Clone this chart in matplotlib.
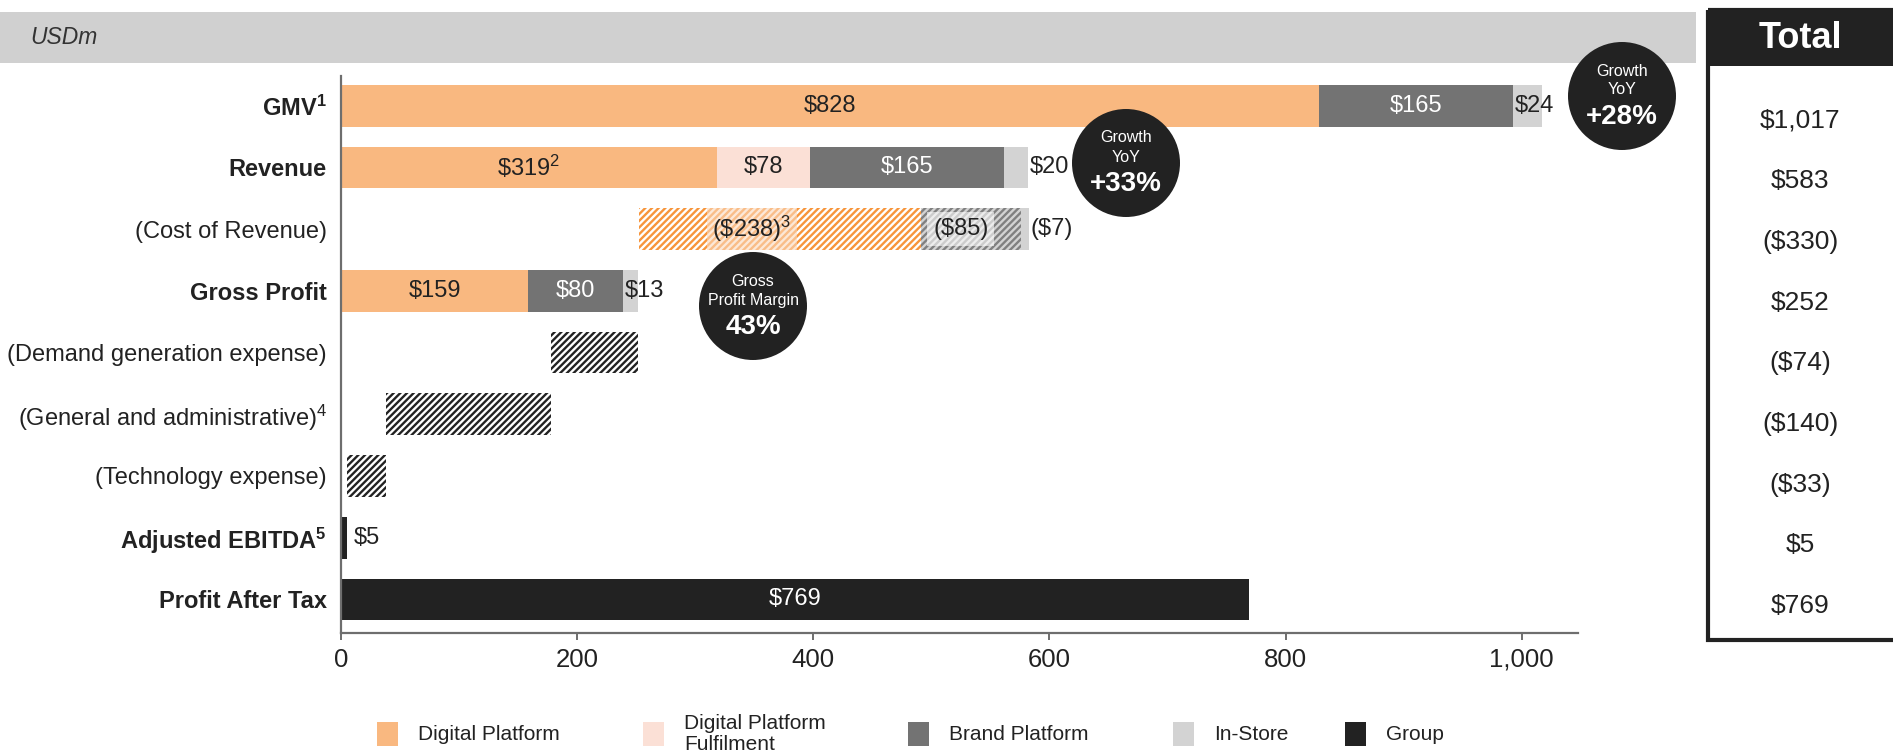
import matplotlib
matplotlib.use("Agg")
import matplotlib.pyplot as plt
from matplotlib.patches import Rectangle, Circle
from matplotlib.ticker import FuncFormatter

plt.rcParams['font.family'] = ['Liberation Sans', 'DejaVu Sans']
plt.rcParams['mathtext.fontset'] = 'custom'
plt.rcParams['mathtext.rm'] = 'Liberation Sans'
plt.rcParams['mathtext.it'] = 'Liberation Sans:italic'
plt.rcParams['mathtext.bf'] = 'Liberation Sans:bold'
plt.rcParams['mathtext.default'] = 'regular'
plt.rcParams['hatch.linewidth'] = 1.7

# ---------------- data ----------------
categories = ["GMV", "Revenue", "(Cost of Revenue)", "Gross Profit",
              "(Demand generation expense)", "(General and administrative)",
              "(Technology expense)", "Adjusted EBITDA", "Profit After Tax"]
cat_notes = ["1", "", "", "", "", "4", "", "5", ""]
cat_bold = [True, True, False, True, False, False, False, True, True]

digital_platform = [828, 319, 238, 159, 0, 0, 0, 0, 0]
dp_notes = ["", "2", "3", "", "", "", "", "", ""]
dp_fulfilment = [0, 78, 0, 0, 0, 0, 0, 0, 0]
brand_platform = [165, 165, 85, 80, 0, 0, 0, 0, 0]
in_store = [24, 20, 7, 13, 0, 0, 0, 0, 0]
group = [0, 0, 0, 0, 74, 140, 33, 5, 769]
totals = [1017, 583, -330, 252, -74, -140, -33, 5, 769]

series_names = ["Digital Platform", "Digital Platform\nFulfilment",
                "Brand Platform", "In-Store", "Group"]
series_colors = ["#F9B880", "#FBE0D6", "#737373", "#D3D3D3", "#222222"]
hatch_colors = ["#F7953B", "#F2B9A4", "#808080", "#D3D3D3", "#222222"]
hatch_faces = ["#FFFFFF", "#FFFFFF", "#D3D3D3", "#D3D3D3", "#FFFFFF"]
hatch_style = "/////"

xticks = [0, 200, 400, 600, 800, 1000]

bubble_lines = [("Growth", "YoY", "+28%"),
                ("Growth", "YoY", "+33%"),
                ("Gross", "Profit Margin", "43%")]

# ---------------- layout ----------------
W, H = 1893, 755
fig = plt.figure(figsize=(W / 100, H / 100), dpi=100)
fig.patch.set_facecolor("white")

px_per_unit = 1.181
x_max = 1048
ax_left, ax_top, ax_bottom = 340.7, 76.0, 632.7
ax = fig.add_axes([ax_left / W, 1 - ax_bottom / H,
                   x_max * px_per_unit / W, (ax_bottom - ax_top) / H])
ax.set_xlim(0, x_max)
ax.set_ylim(8.54, -0.483)

series = [digital_platform, dp_fulfilment, brand_platform, in_store, group]

# waterfall starting points
starts = []
prev = 0
for t in totals:
    if t < 0:
        s = prev + t
        starts.append(s)
        prev = s
    else:
        starts.append(0)
        prev = t

instore_anchor = ["start", "end", "end", "start", "", "", "", "", ""]
bar_h = 0.675
txt = "#222222"
lab_fs = 17

for i in range(len(categories)):
    neg = totals[i] < 0
    left = starts[i]
    for k, vals in enumerate(series):
        v = vals[i]
        if v == 0:
            continue
        if neg:
            ax.barh(i, v, left=left, height=bar_h, color=hatch_faces[k],
                    edgecolor=hatch_colors[k], linewidth=0, hatch=hatch_style)
        else:
            ax.barh(i, v, left=left, height=bar_h, color=series_colors[k],
                    linewidth=0)
        money = f"(${v})" if neg else f"${v}"
        if k == 3:
            xpos = left + 1.5 if instore_anchor[i] == "start" else left + v + 1.5
            ax.text(xpos, i, money, ha="left", va="center", fontsize=lab_fs, color=txt)
        elif k == 4:
            if neg:
                pass
            elif v < 50:
                ax.text(left + v + 6, i, money, ha="left", va="center",
                        fontsize=lab_fs, color=txt)
            else:
                ax.text(left + v / 2, i, money, ha="center", va="center",
                        fontsize=lab_fs, color="white")
        else:
            note = dp_notes[i] if k == 0 else ""
            s = money.replace("$", r"\$") + f"$^{{{note}}}$" if note else money
            col = "white" if k == 2 else txt
            if neg:
                bfc = "#FBD9BD" if k == 0 else "white"
                ax.text(left + 0.4 * v, i, s, ha="center", va="center",
                        fontsize=lab_fs, color=txt,
                        bbox=dict(boxstyle="square,pad=0.25", fc=bfc,
                                  ec="none", alpha=0.6))
            else:
                ax.text(left + v / 2, i, s, ha="center", va="center",
                        fontsize=lab_fs, color=col)
        left += v

# axes styling
for sp in ["top", "right"]:
    ax.spines[sp].set_visible(False)
for sp in ["left", "bottom"]:
    ax.spines[sp].set_color("#6E6E6E")
    ax.spines[sp].set_linewidth(1.6)
ax.set_xticks(xticks)
ax.xaxis.set_major_formatter(FuncFormatter(lambda x, p: f"{x:,.0f}"))
ax.tick_params(axis="x", length=5, width=1.4, color="#6E6E6E",
               labelsize=18.5, labelcolor=txt, pad=6)
ax.set_yticks(range(len(categories)))
ylabels = [c + (f"$^{{{n}}}$" if n else "") for c, n in zip(categories, cat_notes)]
ax.set_yticklabels(ylabels)
ax.tick_params(axis="y", length=0, pad=10, labelsize=17, labelcolor=txt)
for lab, b in zip(ax.get_yticklabels(), cat_bold):
    lab.set_fontweight("bold" if b else "normal")

# ---------------- overlay (pixel coords) ----------------
ov = fig.add_axes([0, 0, 1, 1], zorder=5)
ov.set_xlim(0, W)
ov.set_ylim(H, 0)
ov.axis("off")
ov.patch.set_alpha(0)

# header band
ov.add_patch(Rectangle((0, 12), 1696, 51, fc="#D0D0D0", ec="none", zorder=1))
ov.text(30, 38, "USDm", fontsize=16.5, style="italic", color="#333333",
        ha="left", va="center", zorder=2)

# total box
box_x, box_top, box_bot = 1708, 10, 640
ov.add_patch(Rectangle((box_x, box_top), 200, 56, fc="#222222", ec="none", zorder=2))
ov.add_patch(Rectangle((box_x, box_top), 200, box_bot - box_top, fill=False,
                       ec="#222222", lw=3, zorder=3))
ov.text(1800, 39, "Total", fontsize=26, fontweight="bold", color="white",
        ha="center", va="center", zorder=4)
for i, t in enumerate(totals):
    s = f"${t:,}" if t >= 0 else f"(${-t:,})"
    ov.text(1800, 127.5 + 60.67 * i, s, fontsize=19, color=txt,
            ha="center", va="baseline", zorder=4)

# bubbles
bubble_pos = [(1622, 96), (1126, 163), (753, 306)]
for (cx, cy), (l1, l2, l3) in zip(bubble_pos, bubble_lines):
    ov.add_patch(Circle((cx, cy), 54, fc="#222222", ec="none", zorder=6))
    ov.text(cx, cy - 25, l1, fontsize=11.5, color="white", ha="center",
            va="center", zorder=7)
    ov.text(cx, cy - 6, l2, fontsize=11.5, color="white", ha="center",
            va="center", zorder=7)
    ov.text(cx, cy + 21, l3, fontsize=20, fontweight="bold", color="white",
            ha="center", va="center", zorder=7)

# legend
leg_x = [377, 643, 908, 1173, 1345]
for x0, name, colr in zip(leg_x, series_names, series_colors):
    ov.add_patch(Rectangle((x0, 722), 21, 24, fc=colr, ec="none", zorder=2))
    ov.text(x0 + 41, 734, name, fontsize=15, color=txt, ha="left",
            va="center", linespacing=1.15, zorder=2)

fig.savefig("out.png", dpi=100, facecolor="white")
